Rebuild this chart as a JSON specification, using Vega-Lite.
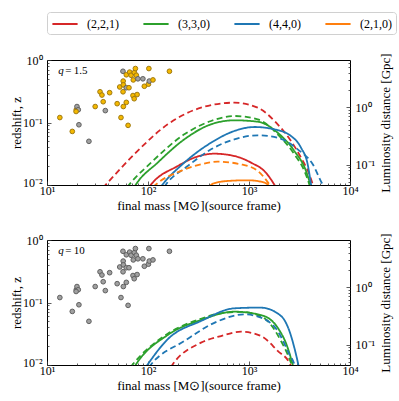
{
  "$schema": "https://vega.github.io/schema/vega-lite/v6.json",
  "padding": {"left": 9, "top": 11, "right": 5, "bottom": 5},
  "config": {
    "font": "Liberation Serif",
    "view": {"stroke": "#000", "strokeWidth": 1},
    "axis": {"labelFont": "Liberation Serif", "titleFont": "Liberation Serif", "labelFontSize": 12, "titleFontSize": 13, "titleFontWeight": "normal", "labelColor": "#000", "titleColor": "#000", "domain": false, "grid": false, "tickColor": "#333", "tickWidth": 0.8, "labelFlush": false, "labelOverlap": false},
    "legend": {"orient": "top", "direction": "horizontal", "title": null, "labelFont": "Liberation Serif", "labelFontSize": 12, "labelColor": "#000", "symbolType": "M-1.8,0H1.8", "symbolStrokeWidth": 2, "symbolSize": 196, "symbolOffset": 6, "strokeColor": "#d0d0d0", "cornerRadius": 3, "padding": 4, "columnPadding": 20, "labelOffset": 14}
  },
  "datasets": {
    "curves": [
      {"p":"top","mode":"(2,2,1)","style":"dashed","M":35.6,"z":0.0089},{"p":"top","mode":"(2,2,1)","style":"dashed","M":39.9,"z":0.0109},{"p":"top","mode":"(2,2,1)","style":"dashed","M":73.1,"z":0.031},{"p":"top","mode":"(2,2,1)","style":"dashed","M":156.7,"z":0.0935},{"p":"top","mode":"(2,2,1)","style":"dashed","M":335,"z":0.1726},{"p":"top","mode":"(2,2,1)","style":"dashed","M":716,"z":0.2075},{"p":"top","mode":"(2,2,1)","style":"dashed","M":1219,"z":0.1726},{"p":"top","mode":"(2,2,1)","style":"dashed","M":1923,"z":0.0935},{"p":"top","mode":"(2,2,1)","style":"dashed","M":2606,"z":0.0506},{"p":"top","mode":"(2,2,1)","style":"dashed","M":3273,"z":0.0274},{"p":"top","mode":"(2,2,1)","style":"dashed","M":3954,"z":0.0148},{"p":"top","mode":"(2,2,1)","style":"dashed","M":4276,"z":0.0102},{"p":"top","mode":"(2,2,1)","style":"dashed","M":4350,"z":0.0092},
      {"p":"top","mode":"(2,2,1)","style":"solid","M":100,"z":0.0088},{"p":"top","mode":"(2,2,1)","style":"solid","M":107.2,"z":0.0102},{"p":"top","mode":"(2,2,1)","style":"solid","M":196.8,"z":0.0201},{"p":"top","mode":"(2,2,1)","style":"solid","M":287.7,"z":0.0274},{"p":"top","mode":"(2,2,1)","style":"solid","M":454,"z":0.0317},{"p":"top","mode":"(2,2,1)","style":"solid","M":716,"z":0.0291},{"p":"top","mode":"(2,2,1)","style":"solid","M":1047,"z":0.0228},{"p":"top","mode":"(2,2,1)","style":"solid","M":1472,"z":0.0157},{"p":"top","mode":"(2,2,1)","style":"solid","M":1778,"z":0.0102},{"p":"top","mode":"(2,2,1)","style":"solid","M":1850,"z":0.0092},
      {"p":"top","mode":"(3,3,0)","style":"dashed","M":62,"z":0.0092},{"p":"top","mode":"(3,3,0)","style":"dashed","M":65.3,"z":0.0102},{"p":"top","mode":"(3,3,0)","style":"dashed","M":107.2,"z":0.0228},{"p":"top","mode":"(3,3,0)","style":"dashed","M":229,"z":0.0647},{"p":"top","mode":"(3,3,0)","style":"dashed","M":421,"z":0.1057},{"p":"top","mode":"(3,3,0)","style":"dashed","M":716,"z":0.127},{"p":"top","mode":"(3,3,0)","style":"dashed","M":1219,"z":0.1125},{"p":"top","mode":"(3,3,0)","style":"dashed","M":1923,"z":0.0647},{"p":"top","mode":"(3,3,0)","style":"dashed","M":2812,"z":0.031},{"p":"top","mode":"(3,3,0)","style":"dashed","M":3532,"z":0.0168},{"p":"top","mode":"(3,3,0)","style":"dashed","M":3954,"z":0.0102},{"p":"top","mode":"(3,3,0)","style":"dashed","M":4010,"z":0.0094},
      {"p":"top","mode":"(3,3,0)","style":"solid","M":73,"z":0.0092},{"p":"top","mode":"(3,3,0)","style":"solid","M":76,"z":0.0102},{"p":"top","mode":"(3,3,0)","style":"solid","M":124.7,"z":0.0228},{"p":"top","mode":"(3,3,0)","style":"solid","M":229,"z":0.0538},{"p":"top","mode":"(3,3,0)","style":"solid","M":421,"z":0.0935},{"p":"top","mode":"(3,3,0)","style":"solid","M":716,"z":0.1084},{"p":"top","mode":"(3,3,0)","style":"solid","M":1219,"z":0.103},{"p":"top","mode":"(3,3,0)","style":"solid","M":1923,"z":0.0687},{"p":"top","mode":"(3,3,0)","style":"solid","M":2812,"z":0.035},{"p":"top","mode":"(3,3,0)","style":"solid","M":3664,"z":0.0168},{"p":"top","mode":"(3,3,0)","style":"solid","M":4046,"z":0.0102},{"p":"top","mode":"(3,3,0)","style":"solid","M":4100,"z":0.0094},
      {"p":"top","mode":"(4,4,0)","style":"solid","M":133,"z":0.0092},{"p":"top","mode":"(4,4,0)","style":"solid","M":139.6,"z":0.0102},{"p":"top","mode":"(4,4,0)","style":"solid","M":229,"z":0.0228},{"p":"top","mode":"(4,4,0)","style":"solid","M":421,"z":0.0475},{"p":"top","mode":"(4,4,0)","style":"solid","M":716,"z":0.0731},{"p":"top","mode":"(4,4,0)","style":"solid","M":1130,"z":0.0847},{"p":"top","mode":"(4,4,0)","style":"solid","M":1778,"z":0.0778},{"p":"top","mode":"(4,4,0)","style":"solid","M":2606,"z":0.0608},{"p":"top","mode":"(4,4,0)","style":"solid","M":3273,"z":0.0395},{"p":"top","mode":"(4,4,0)","style":"solid","M":3811,"z":0.0214},{"p":"top","mode":"(4,4,0)","style":"solid","M":4111,"z":0.0102},{"p":"top","mode":"(4,4,0)","style":"solid","M":4150,"z":0.0092},
      {"p":"top","mode":"(4,4,0)","style":"dashed","M":144,"z":0.0092},{"p":"top","mode":"(4,4,0)","style":"dashed","M":150.7,"z":0.0102},{"p":"top","mode":"(4,4,0)","style":"dashed","M":247,"z":0.0201},{"p":"top","mode":"(4,4,0)","style":"dashed","M":421,"z":0.0372},{"p":"top","mode":"(4,4,0)","style":"dashed","M":716,"z":0.0538},{"p":"top","mode":"(4,4,0)","style":"dashed","M":1219,"z":0.0624},{"p":"top","mode":"(4,4,0)","style":"dashed","M":1923,"z":0.0571},{"p":"top","mode":"(4,4,0)","style":"dashed","M":3034,"z":0.0372},{"p":"top","mode":"(4,4,0)","style":"dashed","M":4276,"z":0.0214},{"p":"top","mode":"(4,4,0)","style":"dashed","M":5370,"z":0.0102},{"p":"top","mode":"(4,4,0)","style":"dashed","M":5600,"z":0.0092},
      {"p":"top","mode":"(2,1,0)","style":"dashed","M":112,"z":0.0092},{"p":"top","mode":"(2,1,0)","style":"dashed","M":120,"z":0.0102},{"p":"top","mode":"(2,1,0)","style":"dashed","M":212,"z":0.0168},{"p":"top","mode":"(2,1,0)","style":"dashed","M":335,"z":0.0214},{"p":"top","mode":"(2,1,0)","style":"dashed","M":490,"z":0.0236},{"p":"top","mode":"(2,1,0)","style":"dashed","M":834,"z":0.0214},{"p":"top","mode":"(2,1,0)","style":"dashed","M":1219,"z":0.0168},{"p":"top","mode":"(2,1,0)","style":"dashed","M":1589,"z":0.0102},{"p":"top","mode":"(2,1,0)","style":"dashed","M":1650,"z":0.0093},
      {"p":"top","mode":"(2,1,0)","style":"solid","M":400,"z":0.0092},{"p":"top","mode":"(2,1,0)","style":"solid","M":440,"z":0.0105},{"p":"top","mode":"(2,1,0)","style":"solid","M":615,"z":0.0116},{"p":"top","mode":"(2,1,0)","style":"solid","M":971,"z":0.0119},{"p":"top","mode":"(2,1,0)","style":"solid","M":1315,"z":0.0113},{"p":"top","mode":"(2,1,0)","style":"solid","M":1531,"z":0.0102},{"p":"top","mode":"(2,1,0)","style":"solid","M":1580,"z":0.0095},
      {"p":"bottom","mode":"(3,3,0)","style":"dashed","M":67,"z":0.0092},{"p":"bottom","mode":"(3,3,0)","style":"dashed","M":70.5,"z":0.0102},{"p":"bottom","mode":"(3,3,0)","style":"dashed","M":156.7,"z":0.0316},{"p":"bottom","mode":"(3,3,0)","style":"dashed","M":335,"z":0.055},{"p":"bottom","mode":"(3,3,0)","style":"dashed","M":490,"z":0.066},{"p":"bottom","mode":"(3,3,0)","style":"dashed","M":834,"z":0.0708},{"p":"bottom","mode":"(3,3,0)","style":"dashed","M":1219,"z":0.063},{"p":"bottom","mode":"(3,3,0)","style":"dashed","M":1531,"z":0.0506},{"p":"bottom","mode":"(3,3,0)","style":"dashed","M":2075,"z":0.0242},{"p":"bottom","mode":"(3,3,0)","style":"dashed","M":2512,"z":0.0126},{"p":"bottom","mode":"(3,3,0)","style":"dashed","M":2630,"z":0.0102},{"p":"bottom","mode":"(3,3,0)","style":"dashed","M":2660,"z":0.0094},
      {"p":"bottom","mode":"(3,3,0)","style":"solid","M":73,"z":0.0092},{"p":"bottom","mode":"(3,3,0)","style":"solid","M":76,"z":0.0102},{"p":"bottom","mode":"(3,3,0)","style":"solid","M":156.7,"z":0.0302},{"p":"bottom","mode":"(3,3,0)","style":"solid","M":335,"z":0.0525},{"p":"bottom","mode":"(3,3,0)","style":"solid","M":716,"z":0.0713},{"p":"bottom","mode":"(3,3,0)","style":"solid","M":1315,"z":0.063},{"p":"bottom","mode":"(3,3,0)","style":"solid","M":1923,"z":0.0395},{"p":"bottom","mode":"(3,3,0)","style":"solid","M":2415,"z":0.0189},{"p":"bottom","mode":"(3,3,0)","style":"solid","M":2704,"z":0.0102},{"p":"bottom","mode":"(3,3,0)","style":"solid","M":2740,"z":0.0094},
      {"p":"bottom","mode":"(4,4,0)","style":"solid","M":95,"z":0.0092},{"p":"bottom","mode":"(4,4,0)","style":"solid","M":99.3,"z":0.0102},{"p":"bottom","mode":"(4,4,0)","style":"solid","M":156.7,"z":0.0258},{"p":"bottom","mode":"(4,4,0)","style":"solid","M":335,"z":0.0506},{"p":"bottom","mode":"(4,4,0)","style":"solid","M":716,"z":0.0807},{"p":"bottom","mode":"(4,4,0)","style":"solid","M":1130,"z":0.0826},{"p":"bottom","mode":"(4,4,0)","style":"solid","M":1315,"z":0.0826},{"p":"bottom","mode":"(4,4,0)","style":"solid","M":2075,"z":0.0608},{"p":"bottom","mode":"(4,4,0)","style":"solid","M":2512,"z":0.035},{"p":"bottom","mode":"(4,4,0)","style":"solid","M":2812,"z":0.0189},{"p":"bottom","mode":"(4,4,0)","style":"solid","M":3076,"z":0.0102},{"p":"bottom","mode":"(4,4,0)","style":"solid","M":3110,"z":0.0094},
      {"p":"bottom","mode":"(4,4,0)","style":"dashed","M":102,"z":0.0092},{"p":"bottom","mode":"(4,4,0)","style":"dashed","M":107.2,"z":0.0102},{"p":"bottom","mode":"(4,4,0)","style":"dashed","M":229,"z":0.0242},{"p":"bottom","mode":"(4,4,0)","style":"dashed","M":490,"z":0.0501},{"p":"bottom","mode":"(4,4,0)","style":"dashed","M":897,"z":0.0646},{"p":"bottom","mode":"(4,4,0)","style":"dashed","M":1315,"z":0.0571},{"p":"bottom","mode":"(4,4,0)","style":"dashed","M":1923,"z":0.035},{"p":"bottom","mode":"(4,4,0)","style":"dashed","M":2512,"z":0.0148},{"p":"bottom","mode":"(4,4,0)","style":"dashed","M":2812,"z":0.0102},{"p":"bottom","mode":"(4,4,0)","style":"dashed","M":2850,"z":0.0094},
      {"p":"bottom","mode":"(2,2,1)","style":"dashed","M":168,"z":0.0092},{"p":"bottom","mode":"(2,2,1)","style":"dashed","M":175.4,"z":0.0102},{"p":"bottom","mode":"(2,2,1)","style":"dashed","M":335,"z":0.0228},{"p":"bottom","mode":"(2,2,1)","style":"dashed","M":528,"z":0.0291},{"p":"bottom","mode":"(2,2,1)","style":"dashed","M":834,"z":0.0341},{"p":"bottom","mode":"(2,2,1)","style":"dashed","M":1315,"z":0.0291},{"p":"bottom","mode":"(2,2,1)","style":"dashed","M":1923,"z":0.0168},{"p":"bottom","mode":"(2,2,1)","style":"dashed","M":2564,"z":0.0102},{"p":"bottom","mode":"(2,2,1)","style":"dashed","M":2620,"z":0.0093}
    ],
    "points": [
      {"M":13.4,"z":0.12,"g":"A"},{"M":17.8,"z":0.072,"g":"A"},{"M":19.5,"z":0.16,"g":"A"},{"M":19.8,"z":0.18,"g":"B"},{"M":20.4,"z":0.16,"g":"B"},{"M":19.4,"z":0.15,"g":"A"},{"M":20.7,"z":0.092,"g":"B"},{"M":26,"z":0.05,"g":"B"},{"M":30,"z":0.18,"g":"A"},{"M":33.5,"z":0.31,"g":"A"},{"M":35,"z":0.275,"g":"A"},{"M":36,"z":0.215,"g":"A"},{"M":37.8,"z":0.155,"g":"B"},{"M":41.7,"z":0.3,"g":"A"},{"M":49.5,"z":0.2,"g":"A"},{"M":52.5,"z":0.37,"g":"A"},{"M":54,"z":0.12,"g":"A"},{"M":56.5,"z":0.66,"g":"B"},{"M":56.8,"z":0.46,"g":"A"},{"M":57,"z":0.4,"g":"A"},{"M":56.6,"z":0.31,"g":"A"},{"M":57,"z":0.18,"g":"A"},{"M":61,"z":0.21,"g":"A"},{"M":61,"z":0.58,"g":"A"},{"M":61,"z":0.36,"g":"B"},{"M":63.5,"z":0.09,"g":"A"},{"M":65.8,"z":0.64,"g":"A"},{"M":68,"z":0.57,"g":"A"},{"M":71.5,"z":0.48,"g":"A"},{"M":71,"z":0.27,"g":"A"},{"M":73.3,"z":0.63,"g":"A"},{"M":73,"z":0.24,"g":"A"},{"M":75,"z":0.73,"g":"A"},{"M":76.6,"z":0.57,"g":"A"},{"M":78,"z":0.28,"g":"A"},{"M":79.5,"z":0.5,"g":"B"},{"M":89,"z":0.5,"g":"B"},{"M":92,"z":0.38,"g":"A"},{"M":101,"z":0.41,"g":"A"},{"M":102,"z":0.73,"g":"A"},{"M":103,"z":0.46,"g":"B"},{"M":112,"z":0.48,"g":"A"},{"M":163,"z":0.66,"g":"A"},{"M":64.8,"z":0.36,"g":"A"}
    ],
    "notes": [
      {"p":"top","Mq":12.9,"Mv":15.2,"z":0.667,"q":"q","v":"=\u20091.5"},
      {"p":"bottom","Mq":12.9,"Mv":15.2,"z":0.667,"q":"q","v":"=\u200910"}
    ],
    "dl": [{"dl":0.0445},{"dl":6.7}]
  },
  "vconcat": [
    {
      "width": 303, "height": 125,
      "layer": [
        {
          "layer": [
            {
              "data": {"name": "points"},
              "mark": {"type": "point", "shape": "circle", "filled": true, "size": 22, "strokeWidth": 1, "opacity": 1},
              "encoding": {
                "x": {"field": "M", "type": "quantitative", "scale": {"type": "log", "domain": [10, 10000], "nice": false},
                  "axis": {"title": "final mass [M⊙](source frame)", "titleY": 20, "titleBaseline": "middle", "values": [10,20,30,40,50,60,70,80,90,100,200,300,400,500,600,700,800,900,1000,2000,3000,4000,5000,6000,7000,8000,9000,10000],
                    "labelExpr": "datum.value == 10 ? '10¹' : datum.value == 100 ? '10²' : datum.value == 1000 ? '10³' : datum.value == 10000 ? '10⁴' : ''",
                    "tickSize": {"condition": {"test": "indexof([10,100,1000,10000], datum.value) >= 0", "value": -4}, "value": -2}, "labelPadding": 4}},
                "y": {"field": "z", "type": "quantitative", "scale": {"type": "log", "domain": [0.01, 1], "nice": false},
                  "axis": {"title": "redshift, z", "titleX": -31, "titleAngle": -90, "titleBaseline": "middle", "values": [0.01,0.02,0.03,0.04,0.05,0.06,0.07,0.08,0.09,0.1,0.2,0.3,0.4,0.5,0.6,0.7,0.8,0.9,1],
                    "labelExpr": "datum.value == 1 ? '10⁰' : datum.value == 0.1 ? '10⁻¹' : datum.value == 0.01 ? '10⁻²' : ''",
                    "labelOffset": {"condition": {"test": "datum.value == 0.01", "value": -3}, "value": 0},
                    "tickSize": {"condition": {"test": "indexof([0.01,0.1,1], datum.value) >= 0", "value": -4}, "value": -2}, "labelPadding": 9}},
                "fill": {"field": "g", "type": "nominal", "scale": {"domain": ["A", "B"], "range": ["#f4b800", "#a0a0a0"]}, "legend": null},
                "stroke": {"field": "g", "type": "nominal", "scale": {"domain": ["A", "B"], "range": ["#a07a10", "#606060"]}, "legend": null}
              }
            },
            {
              "data": {"name": "curves"},
              "transform": [{"filter": "datum.p == 'top'"}],
              "mark": {"type": "line", "clip": true, "strokeWidth": 1.8, "interpolate": "monotone"},
              "encoding": {
                "x": {"field": "M", "type": "quantitative"},
                "y": {"field": "z", "type": "quantitative"},
                "color": {"field": "mode", "type": "nominal", "scale": {"domain": ["(2,2,1)", "(3,3,0)", "(4,4,0)", "(2,1,0)"], "range": ["#d62728", "#2ca02c", "#1f77b4", "#ff7f0e"]}},
                "strokeDash": {"field": "style", "type": "nominal", "scale": {"domain": ["solid", "dashed"], "range": [[1, 0], [6, 3.5]]}, "legend": null}
              }
            },
            {
              "data": {"name": "notes"},
              "transform": [{"filter": "datum.p == 'top'"}],
              "mark": {"type": "text", "align": "left", "baseline": "middle", "fontSize": 11, "fontStyle": "italic", "font": "Liberation Serif"},
              "encoding": {"x": {"field": "Mq", "type": "quantitative"}, "y": {"field": "z", "type": "quantitative"}, "text": {"field": "q"}}
            },
            {
              "data": {"name": "notes"},
              "transform": [{"filter": "datum.p == 'top'"}],
              "mark": {"type": "text", "align": "left", "baseline": "middle", "fontSize": 11, "font": "Liberation Serif"},
              "encoding": {"x": {"field": "Mv", "type": "quantitative"}, "y": {"field": "z", "type": "quantitative"}, "text": {"field": "v"}}
            }
          ]
        },
        {
          "data": {"name": "dl"},
          "mark": {"type": "point", "opacity": 0},
          "encoding": {
            "y": {"field": "dl", "type": "quantitative", "scale": {"type": "log", "domain": [0.0445, 6.7], "nice": false},
              "axis": {"orient": "right", "title": "Luminosity distance [Gpc]", "titleAngle": -90, "titleX": 35, "titleBaseline": "middle", "values": [0.05,0.06,0.07,0.08,0.09,0.1,0.2,0.3,0.4,0.5,0.6,0.7,0.8,0.9,1,2,3,4,5,6],
                "labelExpr": "datum.value == 1 ? '10⁰' : datum.value == 0.1 ? '10⁻¹' : ''",
                "tickSize": {"condition": {"test": "indexof([0.1,1], datum.value) >= 0", "value": -4}, "value": -2}, "labelPadding": 9}}
          }
        }
      ],
      "resolve": {"scale": {"y": "independent"}}
    },
    {
      "width": 303, "height": 125,
      "layer": [
        {
          "layer": [
            {
              "data": {"name": "points"},
              "mark": {"type": "point", "shape": "circle", "filled": true, "size": 22, "strokeWidth": 1, "opacity": 1, "fill": "#a0a0a0", "stroke": "#606060"},
              "encoding": {
                "x": {"field": "M", "type": "quantitative", "scale": {"type": "log", "domain": [10, 10000], "nice": false},
                  "axis": {"title": "final mass [M⊙](source frame)", "titleY": 20, "titleBaseline": "middle", "values": [10,20,30,40,50,60,70,80,90,100,200,300,400,500,600,700,800,900,1000,2000,3000,4000,5000,6000,7000,8000,9000,10000],
                    "labelExpr": "datum.value == 10 ? '10¹' : datum.value == 100 ? '10²' : datum.value == 1000 ? '10³' : datum.value == 10000 ? '10⁴' : ''",
                    "tickSize": {"condition": {"test": "indexof([10,100,1000,10000], datum.value) >= 0", "value": -4}, "value": -2}, "labelPadding": 4}},
                "y": {"field": "z", "type": "quantitative", "scale": {"type": "log", "domain": [0.01, 1], "nice": false},
                  "axis": {"title": "redshift, z", "titleX": -31, "titleAngle": -90, "titleBaseline": "middle", "values": [0.01,0.02,0.03,0.04,0.05,0.06,0.07,0.08,0.09,0.1,0.2,0.3,0.4,0.5,0.6,0.7,0.8,0.9,1],
                    "labelExpr": "datum.value == 1 ? '10⁰' : datum.value == 0.1 ? '10⁻¹' : datum.value == 0.01 ? '10⁻²' : ''",
                    "labelOffset": {"condition": {"test": "datum.value == 0.01", "value": -3}, "value": 0},
                    "tickSize": {"condition": {"test": "indexof([0.01,0.1,1], datum.value) >= 0", "value": -4}, "value": -2}, "labelPadding": 9}}
              }
            },
            {
              "data": {"name": "curves"},
              "transform": [{"filter": "datum.p == 'bottom'"}],
              "mark": {"type": "line", "clip": true, "strokeWidth": 1.8, "interpolate": "monotone"},
              "encoding": {
                "x": {"field": "M", "type": "quantitative"},
                "y": {"field": "z", "type": "quantitative"},
                "color": {"field": "mode", "type": "nominal", "scale": {"domain": ["(2,2,1)", "(3,3,0)", "(4,4,0)", "(2,1,0)"], "range": ["#d62728", "#2ca02c", "#1f77b4", "#ff7f0e"]}},
                "strokeDash": {"field": "style", "type": "nominal", "scale": {"domain": ["solid", "dashed"], "range": [[1, 0], [6, 3.5]]}, "legend": null}
              }
            },
            {
              "data": {"name": "notes"},
              "transform": [{"filter": "datum.p == 'bottom'"}],
              "mark": {"type": "text", "align": "left", "baseline": "middle", "fontSize": 11, "fontStyle": "italic", "font": "Liberation Serif"},
              "encoding": {"x": {"field": "Mq", "type": "quantitative"}, "y": {"field": "z", "type": "quantitative"}, "text": {"field": "q"}}
            },
            {
              "data": {"name": "notes"},
              "transform": [{"filter": "datum.p == 'bottom'"}],
              "mark": {"type": "text", "align": "left", "baseline": "middle", "fontSize": 11, "font": "Liberation Serif"},
              "encoding": {"x": {"field": "Mv", "type": "quantitative"}, "y": {"field": "z", "type": "quantitative"}, "text": {"field": "v"}}
            }
          ]
        },
        {
          "data": {"name": "dl"},
          "mark": {"type": "point", "opacity": 0},
          "encoding": {
            "y": {"field": "dl", "type": "quantitative", "scale": {"type": "log", "domain": [0.0445, 6.7], "nice": false},
              "axis": {"orient": "right", "title": "Luminosity distance [Gpc]", "titleAngle": -90, "titleX": 35, "titleBaseline": "middle", "values": [0.05,0.06,0.07,0.08,0.09,0.1,0.2,0.3,0.4,0.5,0.6,0.7,0.8,0.9,1,2,3,4,5,6],
                "labelExpr": "datum.value == 1 ? '10⁰' : datum.value == 0.1 ? '10⁻¹' : ''",
                "tickSize": {"condition": {"test": "indexof([0.1,1], datum.value) >= 0", "value": -4}, "value": -2}, "labelPadding": 9}}
          }
        }
      ],
      "resolve": {"scale": {"y": "independent"}}
    }
  ],
  "spacing": 55,
  "bounds": "flush",
  "resolve": {"scale": {"color": "shared", "strokeDash": "shared"}, "legend": {"color": "shared"}}
}
